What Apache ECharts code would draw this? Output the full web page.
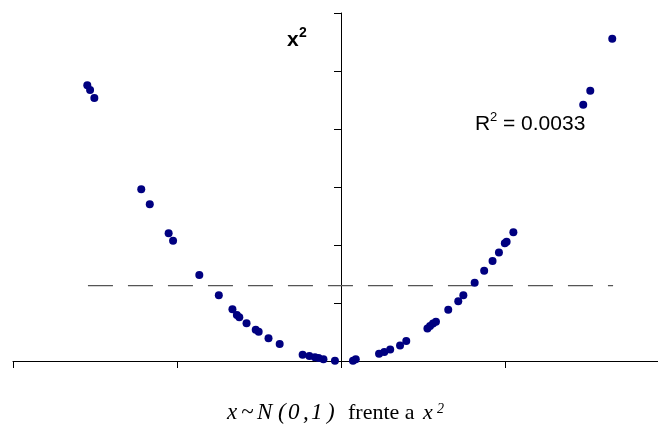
<!DOCTYPE html>
<html>
<head>
<meta charset="utf-8">
<script src="https://cdn.jsdelivr.net/npm/echarts@6/dist/echarts.min.js"></script>
<style>
  html, body { margin: 0; padding: 0; background: #fff; }
  #chart { width: 658px; height: 426px; }
</style>
</head>
<body>
<div id="chart"></div>
<script>
// points: x ~ N(0,1) against x^2
const xs = [
  -1.547, -1.530, -1.504, -1.218, -1.166, -1.051, -1.024, -0.864, -0.745, -0.662,
  -0.635, -0.620, -0.576, -0.520, -0.502, -0.442, -0.374, -0.234, -0.193, -0.159,
  -0.137, -0.107, -0.037, 0.073, 0.090, 0.232, 0.264, 0.300, 0.360, 0.398,
  0.527, 0.543, 0.561, 0.579, 0.654, 0.715, 0.746, 0.815, 0.873, 0.924,
  0.963, 0.999, 1.010, 1.051, 1.477, 1.520, 1.654
]
const ys = [
  2.377, 2.336, 2.267, 1.481, 1.351, 1.101, 1.037, 0.741, 0.566, 0.446,
  0.397, 0.377, 0.326, 0.269, 0.253, 0.197, 0.147, 0.054, 0.043, 0.032,
  0.026, 0.016, 0.003, 0.003, 0.016, 0.062, 0.078, 0.099, 0.134, 0.172,
  0.280, 0.302, 0.323, 0.339, 0.442, 0.516, 0.566, 0.674, 0.778, 0.862,
  0.935, 1.016, 1.028, 1.109, 2.209, 2.330, 2.779
]
// linear trend line (nearly flat)
const trendX = [-1.543, 1.659]
const trendY = [0.649, 0.649]

const xTicks = { min: -2, max: 2, interval: 1 }
const yTicks = { min: 0, max: 3, interval: 0.5 }

const chart = echarts.init(document.getElementById('chart'))

const axisCommon = {
  type: 'value',
  axisLine: { show: true, onZero: true, lineStyle: { color: '#000', width: 1 } },
  axisTick: { show: true, length: 7, inside: false, lineStyle: { color: '#000', width: 1 } },
  axisLabel: { show: false },
  splitLine: { show: false }
}

const serif = '"Liberation Serif", "Times New Roman", serif'
const sans = '"Liberation Sans", Arial, sans-serif'

// the italic part of the caption is set wide in the original, so place it glyph by glyph
const capChars = ['x', '~', 'N', '(', '0', ',', '1', ')']
const capX = [227, 241, 257, 278, 288, 303, 311, 327]
const captionGlyphs = capChars.map((c, i) => ({
  type: 'text',
  style: { text: c, x: capX[i], y: 424, font: 'italic 23px ' + serif, fill: '#000', verticalAlign: 'bottom' }
}))

chart.setOption({
  animation: false,
  backgroundColor: '#fff',
  // right edge of the x axis (x = 2) falls just outside the canvas
  grid: { left: 13, top: 13, width: 656, height: 348, outerBoundsMode: 'none', containLabel: false },
  xAxis: Object.assign({}, axisCommon, xTicks),
  yAxis: Object.assign({}, axisCommon, yTicks),
  series: [
    {
      type: 'line',
      data: trendX.map((x, i) => [x, trendY[i]]),
      symbol: 'none',
      lineStyle: { color: '#555', width: 1.3, type: [25, 15] },
      z: 1
    },
    {
      type: 'scatter',
      data: xs.map((x, i) => [x, ys[i]]),
      symbolSize: 8,
      itemStyle: { color: '#000080', opacity: 1 },
      z: 2
    }
  ],
  graphic: [
    // axis name x^2
    { type: 'text', style: { text: 'x', x: 287, y: 51, font: 'bold 21px ' + sans, fill: '#000', verticalAlign: 'bottom' } },
    { type: 'text', style: { text: '2', x: 299, y: 40, font: 'bold 14px ' + sans, fill: '#000', verticalAlign: 'bottom' } },
    // R^2 label
    { type: 'text', style: { text: 'R', x: 475, y: 135, font: '21px ' + sans, fill: '#000', verticalAlign: 'bottom' } },
    { type: 'text', style: { text: '2', x: 490, y: 124, font: '13px ' + sans, fill: '#000', verticalAlign: 'bottom' } },
    { type: 'text', style: { text: '= 0.0033', x: 503, y: 135, font: '21px ' + sans, fill: '#000', verticalAlign: 'bottom' } },
    // bottom caption
    ...captionGlyphs,
    { type: 'text', style: { text: 'frente a', x: 348, y: 424, font: '22px ' + serif, fill: '#000', verticalAlign: 'bottom' } },
    { type: 'text', style: { text: 'x', x: 423, y: 424, font: 'italic 22px ' + serif, fill: '#000', verticalAlign: 'bottom' } },
    { type: 'text', style: { text: '2', x: 437, y: 416, font: 'italic 14px ' + serif, fill: '#000', verticalAlign: 'bottom' } }
  ]
})
</script>
</body>
</html>
